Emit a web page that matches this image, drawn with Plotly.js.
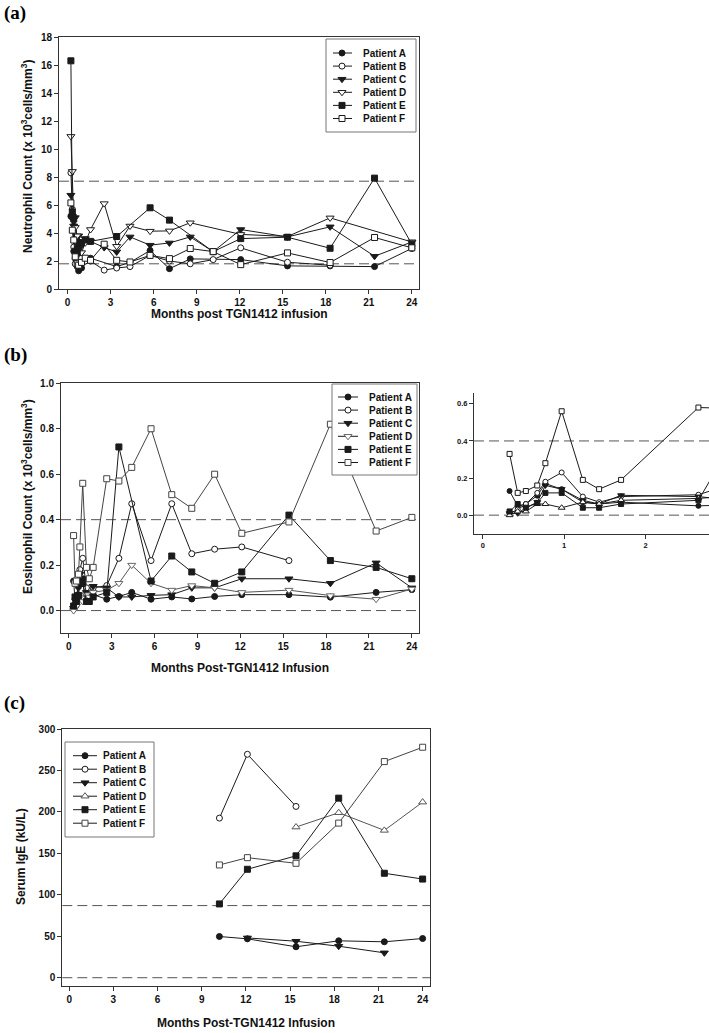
<!DOCTYPE html>
<html><head><meta charset="utf-8">
<script src="https://cdn.plot.ly/plotly-3.0.1.min.js"></script>
<style>html,body{margin:0;padding:0;background:#fff}#chart{width:709px;height:1033px}</style>
</head><body><div id="chart"></div>
<script>
// ---------------- DATA ----------------
const patientNames = ['Patient A','Patient B','Patient C','Patient D','Patient E','Patient F'];

// (a) Neutrophil count (x10^3 cells/mm^3)
const neutMonths = [0.23,0.33,0.43,0.53,0.67,0.77,0.97,1.23,1.6,2.55,3.42,4.35,5.75,7.1,8.55,10.15,12.07,15.33,18.3,21.4,24.0];
const neutA = [5.2,5.1,2.7,2.2,1.6,1.3,1.5,2.0,2.2,null,1.6,1.9,2.75,1.45,2.15,null,2.1,1.65,1.65,1.6,2.9];
const neutB = [8.3,5.7,3.0,1.8,1.9,2.1,2.2,2.0,2.0,1.35,1.5,1.6,2.4,2.0,1.8,2.1,2.94,1.91,1.7,null,null];
const neutC = [6.7,5.2,4.5,5.1,3.4,3.8,3.1,3.6,3.4,2.96,2.65,3.72,3.13,3.29,3.72,2.67,4.25,3.72,4.44,2.34,3.36];
const neutD = [10.9,8.4,5.0,4.4,3.8,2.9,2.6,3.3,4.25,6.1,3.05,4.5,4.13,4.15,4.73,null,3.9,3.75,5.08,null,3.36];
const neutE = [16.3,5.5,5.0,2.7,2.6,3.0,3.3,3.5,3.4,null,3.75,null,5.8,4.92,null,2.67,3.6,3.7,2.91,7.92,3.2];
const neutF = [6.15,4.2,3.5,2.3,1.8,1.7,1.9,2.2,2.05,3.2,2.05,1.93,2.4,2.17,2.89,2.67,1.74,2.58,1.89,3.68,2.94];
const neutRef = [1.8, 7.7];

// (b) Eosinophil count (x10^3 cells/mm^3)
const eosMonths = [0.33,0.43,0.53,0.67,0.77,0.97,1.23,1.43,1.7,2.65,3.5,4.4,5.75,7.2,8.6,10.2,12.1,15.4,18.3,21.5,24.0];
const eosA = [0.13,0.05,0.06,0.105,0.17,0.14,0.07,0.06,0.07,0.05,0.062,0.08,0.05,0.06,0.051,0.062,0.07,0.07,0.059,0.08,0.092];
const eosB = [0.01,0.03,0.06,0.12,0.18,0.23,0.10,0.07,0.10,0.11,0.23,0.47,0.22,0.47,0.25,0.27,0.28,0.22,null,null,null];
const eosC = [0.01,0.01,0.04,0.07,0.16,0.14,0.08,0.06,0.107,0.10,0.06,0.06,0.067,0.07,0.10,0.10,0.14,0.14,0.12,0.21,0.10];
const eosD = [0.0,0.02,0.02,0.06,0.06,0.04,0.07,0.06,0.08,0.09,0.12,0.20,0.12,0.09,0.11,0.10,0.08,0.09,0.066,0.05,0.095];
const eosE = [0.02,0.06,0.04,0.066,0.12,0.12,0.04,0.04,0.06,0.08,0.72,null,0.13,0.24,0.17,0.12,0.17,0.42,0.22,0.19,0.14];
const eosF = [0.33,0.12,0.13,0.16,0.28,0.56,0.19,0.14,0.19,0.58,0.57,0.63,0.80,0.51,0.45,0.60,0.34,0.39,0.82,0.35,0.41];
const eosRef = [0.0, 0.4];

// (c) Serum IgE (kU/L)
const igeMonths = [10.2,12.1,15.4,18.3,21.4,24.0];
const igeA = [49.7,46.9,37.3,44.5,43.3,47.3];
const igeB = [192.5,269.5,206.6,null,null,null];
const igeC = [null,48,44,38,30,null];
const igeD = [null,null,181.7,199,177.7,211.8];
const igeE = [89,130.8,147,216.6,126,119];
const igeF = [136,144.8,138,186.5,260.7,278];
const igeRef = [0, 87];

const monthTicks = [0,3,6,9,12,15,18,21,24];
const neutTicks = [0,2,4,6,8,10,12,14,16,18];
const eosTicks = [0,0.2,0.4,0.6,0.8,1.0];
const insetXTicks = [0,1,2];
const insetYTicks = [0,0.2,0.4,0.6];
const igeTicks = [0,50,100,150,200,250,300];

// ---------------- STYLE ----------------
const W = 709, H = 1033;
const FONT = '"Liberation Sans", Arial, sans-serif';
const SERIF = '"Liberation Serif", "Times New Roman", serif';
const INK = '#1a1a1a';
const fx = p => p / W;
const fy = p => 1 - p / H;

const symAB = ['circle','circle','triangle-down','triangle-down','square','square'];
const symC  = ['circle','circle','triangle-down','triangle-up','square','square'];
const filled = [true,false,true,false,true,false];

function marker(i, sym, size, edge) {
  const s = sym[i];
  const sz = s.indexOf('triangle') === 0 ? size + 1 : size;
  if (filled[i]) return {symbol: s, size: sz, color: INK, line: {color: INK, width: 1}};
  return {symbol: s, size: sz, color: '#fff', line: {color: edge[i], width: 1}};
}

const traces = [];
function addSeries(xs, ysList, xa, ya, sym, size, edge, lineCol) {
  ysList.forEach((ys, i) => {
    traces.push({
      type: 'scatter', mode: 'lines+markers', x: xs, y: ys,
      xaxis: xa, yaxis: ya, connectgaps: true, showlegend: false,
      hoverinfo: 'skip',
      line: {color: lineCol[i], width: 1},
      marker: marker(i, sym, size, edge)
    });
  });
}

const edgeA = [INK,INK,INK,INK,INK,INK];
const lineA = [INK,INK,INK,INK,INK,INK];
const edgeB = [INK,INK,INK,'#666',INK,'#444'];
const lineB = [INK,INK,INK,'#555',INK,'#444'];
const edgeC = [INK,INK,INK,'#555',INK,'#444'];

addSeries(neutMonths, [neutA,neutB,neutC,neutD,neutE,neutF], 'x', 'y', symAB, 6, edgeA, lineA);
addSeries(eosMonths, [eosA,eosB,eosC,eosD,eosE,eosF], 'x2', 'y2', symAB, 6, edgeB, lineB);
addSeries(eosMonths, [eosA,eosB,eosC,eosD,eosE,eosF], 'x3', 'y3', symC, 5, edgeA, lineA);
addSeries(igeMonths, [igeA,igeB,igeC,igeD,igeE,igeF], 'x4', 'y4', symC, 6, edgeC, lineB);

// ---------------- LEGENDS (drawn in page-pixel overlay axis) ----------------
const shapes = [];
const annotations = [];
const legends = [
  {left:326, top:39, w:90, h:93, row0:53, dy:13.1, lx0:333, lx1:352, mx:342, tx:361, sym:symAB, edge:edgeA},
  {left:332, top:384, w:85, h:91, row0:397, dy:13.1, lx0:338, lx1:358, mx:348, tx:367, sym:symAB, edge:edgeB},
  {left:65, top:742, w:89, h:95, row0:755.7, dy:13.5, lx0:73, lx1:97, mx:85, tx:101, sym:symC, edge:edgeC}
];
legends.forEach(L => {
  shapes.push({type:'rect', xref:'x5', yref:'y5', x0:L.left, x1:L.left+L.w, y0:L.top, y1:L.top+L.h,
               line:{color:'#777', width:1}, fillcolor:'#fff', layer:'below'});
});
legends.forEach(L => {
  patientNames.forEach((nm, i) => {
    const ry = L.row0 + i * L.dy;
    traces.push({type:'scatter', mode:'lines', x:[L.lx0, L.lx1], y:[ry, ry], xaxis:'x5', yaxis:'y5',
                 showlegend:false, hoverinfo:'skip', line:{color:INK, width:1}});
    traces.push({type:'scatter', mode:'markers', x:[L.mx], y:[ry], xaxis:'x5', yaxis:'y5',
                 showlegend:false, hoverinfo:'skip', marker: marker(i, L.sym, 6, L.edge)});
    annotations.push({xref:'x5', yref:'y5', x:L.tx, y:ry, text:nm, showarrow:false,
                      xanchor:'left', yanchor:'middle',
                      font:{family:FONT, size:10, color:'#111', weight:'bold'}});
  });
});

// ---------------- REFERENCE LINES ----------------
function refLines(vals, xa, ya) {
  vals.forEach(v => shapes.push({type:'line', xref: xa + ' domain', yref: ya, x0:0, x1:1, y0:v, y1:v,
      line:{color:'#555', width:1, dash:'10px,5px'}, layer:'below'}));
}
refLines(neutRef, 'x', 'y');
refLines(eosRef, 'x2', 'y2');
refLines(eosRef, 'x3', 'y3');
refLines(igeRef, 'x4', 'y4');

// ---------------- TEXT ----------------
function txt(x, y, text, opts) {
  annotations.push(Object.assign({xref:'x5', yref:'y5', x:x, y:y, text:text, showarrow:false,
    xanchor:'center', yanchor:'middle', font:{family:FONT, size:12, color:'#111', weight:'bold'}}, opts || {}));
}
const panelFont = {family:SERIF, size:19, color:'#000', weight:'bold'};
txt(2, 13, '(a)', {xanchor:'left', font:panelFont});
txt(2, 355, '(b)', {xanchor:'left', font:panelFont});
txt(2, 703, '(c)', {xanchor:'left', font:panelFont});
txt(27, 157, 'Neutrophil Count (x 10<sup>3</sup>cells/mm<sup>3</sup>)', {textangle:-90});
txt(239, 314, 'Months post TGN1412 infusion');
txt(27, 497, 'Eosinophil Count (x 10<sup>3</sup>cells/mm<sup>3</sup>)', {textangle:-90});
txt(240, 668, 'Months Post-TGN1412 Infusion');
txt(21, 857, 'Serum IgE (kU/L)', {textangle:-90});
txt(246, 1023, 'Months Post-TGN1412 Infusion');

// ---------------- AXES ----------------
function ax(extra) {
  return Object.assign({showline:true, linecolor:'#333', linewidth:1, ticks:'outside', ticklen:4,
    tickwidth:1, tickcolor:'#333', showgrid:false, zeroline:false, fixedrange:true,
    tickfont:{family:FONT, size:10, color:'#111', weight:'bold'}}, extra);
}
const insetFont = {family:FONT, size:7.5, color:'#111', weight:'bold'};

const layout = {
  width: W, height: H, margin: {l:0, r:0, t:0, b:0},
  paper_bgcolor: '#fff', plot_bgcolor: 'rgba(0,0,0,0)', showlegend: false,
  xaxis:  ax({domain:[fx(59), fx(419)], range:[-0.6, 24.5], tickvals:monthTicks, mirror:true, anchor:'y'}),
  yaxis:  ax({domain:[fy(289), fy(37)], range:[0, 18], tickvals:neutTicks, mirror:true, anchor:'x'}),
  xaxis2: ax({domain:[fx(61), fx(419)], range:[-0.55, 24.5], tickvals:monthTicks, mirror:true, anchor:'y2'}),
  yaxis2: ax({domain:[fy(633.3), fy(383.3)], range:[-0.1, 1.0], tickvals:eosTicks, tickformat:'.1f', mirror:true, anchor:'x2'}),
  xaxis3: ax({domain:[fx(474), 1], range:[-0.107, 2.78], tickvals:insetXTicks, anchor:'y3', tickfont:insetFont}),
  yaxis3: ax({domain:[fy(533.7), fy(392.7)], range:[-0.1, 0.66], tickvals:insetYTicks, tickformat:'.1f', anchor:'x3', tickfont:insetFont}),
  xaxis4: ax({domain:[fx(62.3), fx(430)], range:[-0.47, 24.5], tickvals:monthTicks, mirror:true, anchor:'y4'}),
  yaxis4: ax({domain:[fy(986), fy(729)], range:[-10, 300], tickvals:igeTicks, mirror:true, anchor:'x4'}),
  xaxis5: {domain:[0,1], range:[0, W], visible:false, fixedrange:true, anchor:'y5'},
  yaxis5: {domain:[0,1], range:[H, 0], visible:false, fixedrange:true, anchor:'x5'},
  shapes: shapes,
  annotations: annotations
};

Plotly.newPlot('chart', traces, layout, {staticPlot:true, displayModeBar:false});
</script>
</body></html>
